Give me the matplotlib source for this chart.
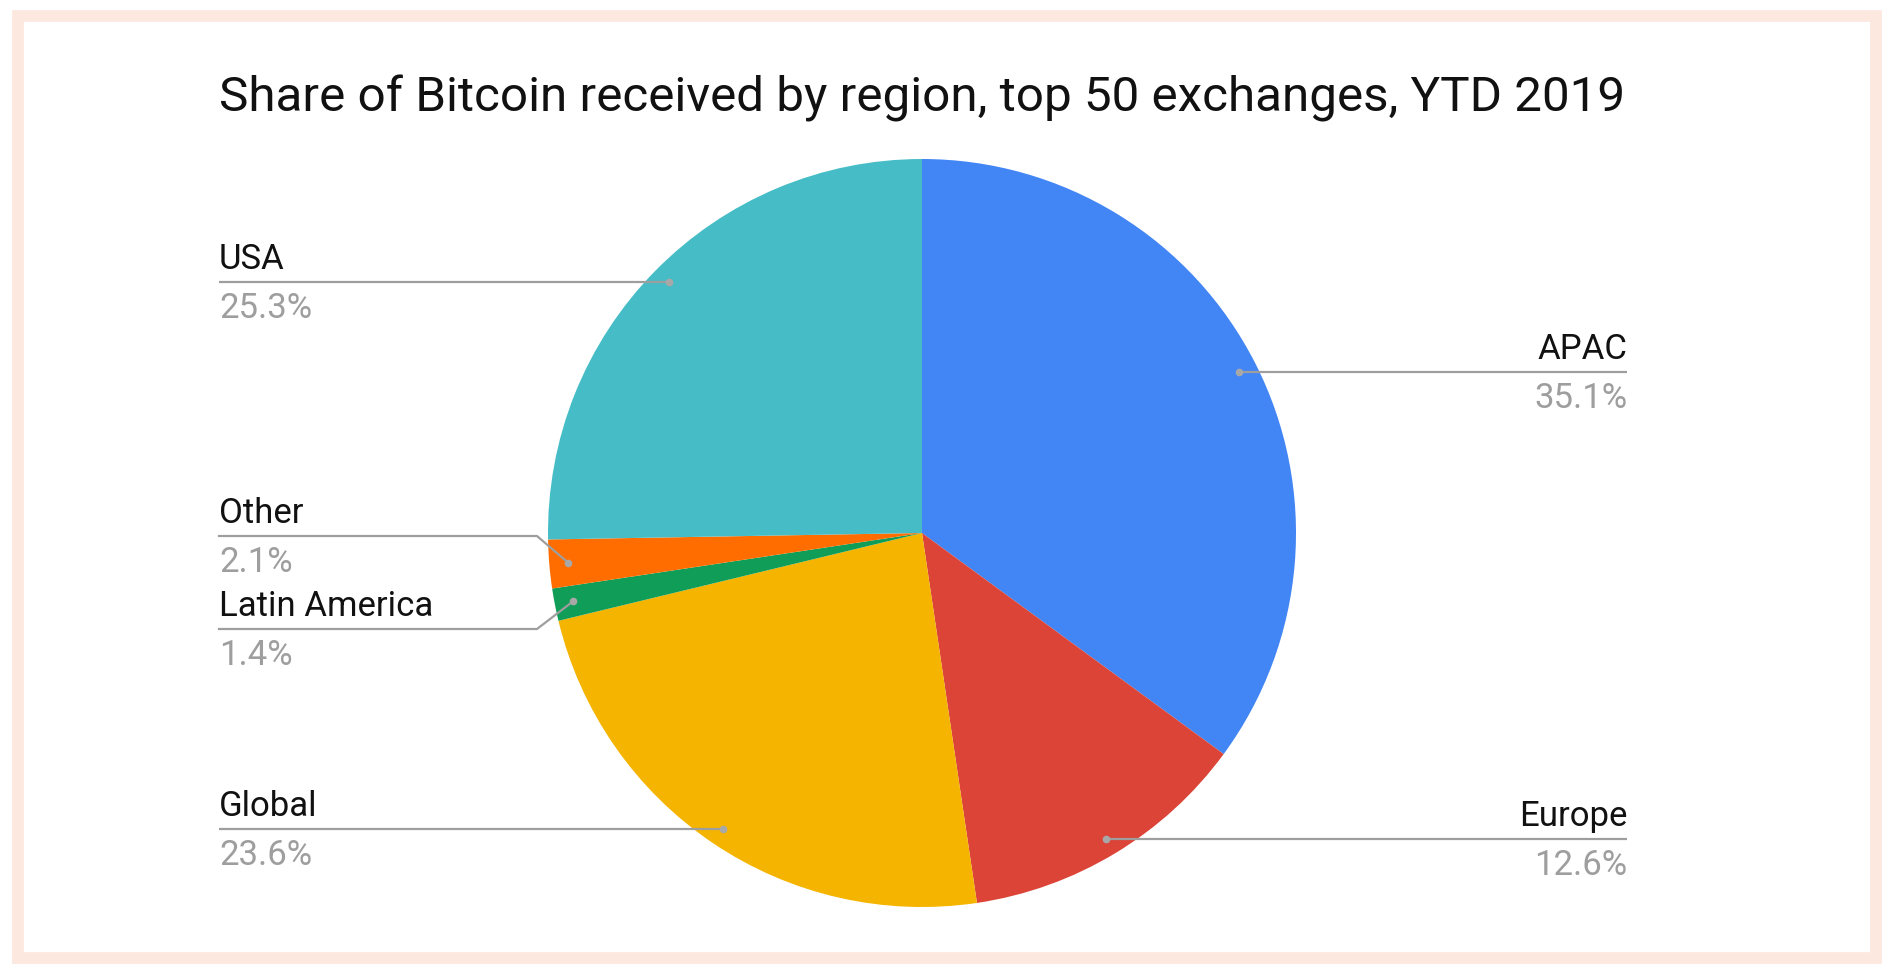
import numpy as np
import matplotlib
matplotlib.use("Agg")
import matplotlib.pyplot as plt
from matplotlib.patches import Rectangle

plt.rcParams['font.family'] = ['Roboto', 'DejaVu Sans']

# ---- data ----
regions = ["APAC", "Europe", "Global", "Latin America", "Other", "USA"]
shares = [35.1, 12.6, 23.6, 1.4, 2.1, 25.3]
pct_labels = ["35.1%", "12.6%", "23.6%", "1.4%", "2.1%", "25.3%"]
colors = ["#4285F4", "#DB4437", "#F4B400", "#0F9D58", "#FF6D00", "#46BDC6"]
title = "Share of Bitcoin received by region, top 50 exchanges, YTD 2019"

W, H = 1890, 973
fig = plt.figure(figsize=(W / 100, H / 100), dpi=100)
ax = fig.add_axes([0, 0, 1, 1])

def Y(ypx):
    return H - ypx

# border
ax.add_patch(Rectangle((18, Y(958)), 1858, 942, fill=False,
                       edgecolor="#FDE8DF", linewidth=8.5, zorder=0))

cx, cy, R = 922, Y(533), 374
wedges, _ = ax.pie(shares, colors=colors, startangle=90, counterclock=False,
                   center=(cx, cy), radius=R, frame=True,
                   wedgeprops=dict(linewidth=0))
ax.set_xlim(0, W)
ax.set_ylim(0, H)
ax.axis('off')

ax.text(922, Y(112), title, ha='center', va='baseline', fontsize=35.6,
        color='#111111')

# label layout: (line y px, text x px, side, elbow x or None)
layout = {
    "APAC": (372, 1627, 'right', None),
    "Europe": (839, 1627, 'right', None),
    "Global": (829, 219, 'left', None),
    "Latin America": (629, 219, 'left', 537),
    "Other": (536, 219, 'left', 537),
    "USA": (282, 219, 'left', None),
}

line_col = "#9E9E9E"
for w, name, pl in zip(wedges, regions, pct_labels):
    mid = np.deg2rad((w.theta1 + w.theta2) / 2)
    dx = cx + 0.95 * R * np.cos(mid)
    dy = cy + 0.95 * R * np.sin(mid)
    ly, tx, side, elbow = layout[name]
    if elbow is None:
        ax.plot([tx, dx], [Y(ly), Y(ly)], color=line_col, lw=1.6,
                solid_capstyle='butt', zorder=3)
    else:
        ax.plot([tx, elbow, dx], [Y(ly), Y(ly), dy], color=line_col, lw=1.6,
                zorder=3)
    ax.plot([dx], [dy if elbow else Y(ly)], 'o', color="#A8A8A8", ms=5.5,
            mec='none', zorder=4)
    ax.text(tx, Y(ly - 13), name, ha=side, va='baseline', fontsize=25,
            color='#111111')
    ax.text(tx, Y(ly + 36), pl, ha=side, va='baseline', fontsize=25,
            color='#9E9E9E')

fig.savefig("out.png", dpi=100, facecolor='white')
